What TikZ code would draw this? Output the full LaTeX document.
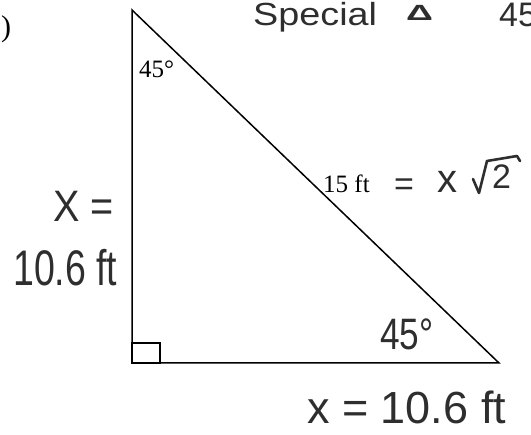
\documentclass[tikz,border=0pt]{standalone}
\usepackage{fontspec}
\setmainfont{Liberation Serif}
\newfontfamily\hand{Liberation Sans}
\definecolor{hwgray}{HTML}{2E2E2E}
\begin{document}
\begin{tikzpicture}[x=1pt,y=-1pt,
  hw/.style={inner sep=0pt, text=hwgray, anchor=base west},
  pr/.style={inner sep=0pt, anchor=base west, font=\fontsize{25}{25}\selectfont},
  edge/.style={line width=1.5pt, line join=miter},
  pen/.style={line width=2.6pt, draw=hwgray, line cap=round, line join=round}]
\useasboundingbox (0,0) rectangle (531,435);
\clip (0,0) rectangle (531,435);
% triangle
\coordinate (A) at (132,10);
\coordinate (B) at (132,363);
\coordinate (C) at (499,363);
\draw[edge] (A) -- (B) -- (C) -- cycle;
\draw[line width=1.3pt] (132,343) rectangle (160,363);
% printed text
\node[pr, font=\fontsize{30}{30}\selectfont] (paren) at (1,37) {)};
\node[pr] (topang) at (139,78) {45°};
\node[pr] (hyp) at (323,193) {15 ft};
% handwritten text
\node[hw, font=\hand\fontsize{32}{32}\selectfont] (spec) at (253,26) {\scalebox{1.18}[1]{Special}};
\node[hw, font=\hand\bfseries\fontsize{22}{22}\selectfont] (delta) at (406,21) {\scalebox{1.7}[1]{Δ}};
\node[hw, font=\hand\fontsize{34}{34}\selectfont] (four) at (499,27) {45};
\node[hw, font=\hand\fontsize{44}{44}\selectfont] (xeq) at (53,222) {\scalebox{0.9}[1]{X =}};
\node[hw, font=\hand\fontsize{50}{50}\selectfont] (ten) at (13,286) {\scalebox{0.75}[1]{10.6 ft}};
\node[hw, font=\hand\fontsize{34}{34}\selectfont] (eq) at (394,196) {=};
\node[hw, font=\hand\fontsize{40}{40}\selectfont] (xmid) at (437,193) {x};
\node[hw, font=\hand\fontsize{34}{34}\selectfont] (two) at (492,189) {2};
\draw[pen] (473,179) -- (479,193) -- (487,161) -- (517,156) -- (520,161);
\node[hw, font=\hand\fontsize{44}{44}\selectfont] (ang) at (380,350) {\scalebox{0.8}[1]{45°}};
\node[hw, font=\hand\fontsize{45}{45}\selectfont] (bot) at (307,424) {x = 10.6 ft};
\end{tikzpicture}
\end{document}
